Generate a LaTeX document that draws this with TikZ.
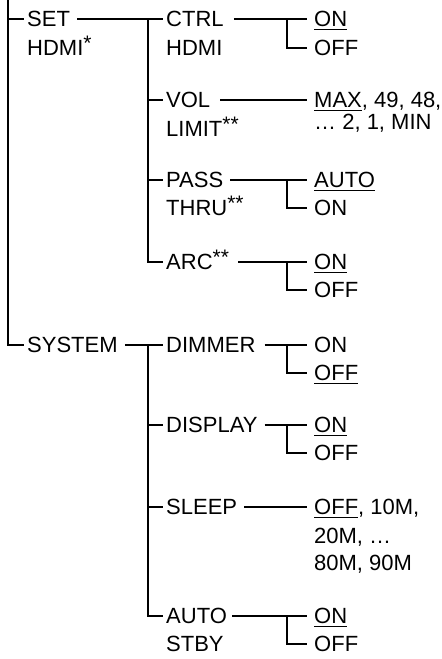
\documentclass[tikz,border=0pt]{standalone}
\usepackage{fontspec}
\setmainfont{Liberation Sans}
\newcommand\myul[1]{\setbox0\hbox{#1}\rlap{\rule[-3.2pt]{\wd0}{1.6pt}}\box0}
\newcommand\stars[1]{\raisebox{5pt}{\fontsize{21}{21}\selectfont #1}}
\begin{document}
\begin{tikzpicture}[x=1pt,y=-1pt,
  lbl/.style={anchor=west,inner sep=0pt,text height=15.8pt,text depth=0pt,font=\fontsize{22}{26}\selectfont},
  ln/.style={line width=2pt},
  bar/.style={line width=2.4pt}]
\useasboundingbox (0,0) rectangle (442,659);
% level 1
\node[lbl] (set) at (27,19) {SET};
\node[lbl] (sethdmi) at (27,48) {HDMI\stars{*}};
\node[lbl] (system) at (27,345) {SYSTEM};
% level 2
\node[lbl] (ctrl) at (166,19) {CTRL};
\node[lbl] (ctrlhdmi) at (166,48) {HDMI};
\node[lbl] (vol) at (166,100) {VOL};
\node[lbl] (limit) at (166,129) {LIMIT\stars{**}};
\node[lbl] (pass) at (166,180) {PASS};
\node[lbl] (thru) at (166,208) {THRU\stars{**}};
\node[lbl] (arc) at (166,262) {ARC\stars{**}};
\node[lbl] (dimmer) at (166,345) {DIMMER};
\node[lbl] (display) at (166,425) {DISPLAY};
\node[lbl] (sleep) at (166,507) {SLEEP};
\node[lbl] (auto) at (166,616) {AUTO};
\node[lbl] (stby) at (166,644) {STBY};
% level 3
\node[lbl] (on1) at (314,19) {\myul{ON}};
\node[lbl] (off1) at (314,48) {OFF};
\node[lbl] (max) at (314,100) {\myul{MAX}, 49, 48,};
\node[lbl] (min) at (314,122) {… 2, 1, MIN};
\node[lbl] (autoopt) at (314,180) {\myul{AUTO}};
\node[lbl] (on2) at (314,208) {ON};
\node[lbl] (on3) at (314,262) {\myul{ON}};
\node[lbl] (off3) at (314,290) {OFF};
\node[lbl] (on4) at (314,345) {ON};
\node[lbl] (off4) at (314,373) {\myul{OFF}};
\node[lbl] (on5) at (314,425) {\myul{ON}};
\node[lbl] (off5) at (314,453) {OFF};
\node[lbl] (sl1) at (314,507) {\myul{OFF}, 10M,};
\node[lbl] (sl2) at (314,536) {20M, …};
\node[lbl] (sl3) at (314,563) {80M, 90M};
\node[lbl] (on6) at (314,616) {\myul{ON}};
\node[lbl] (off6) at (314,644) {OFF};
% bars
\coordinate (b1) at (8,0);
\coordinate (b2) at (148,0);
\coordinate (b3) at (287,0);
% level 1 connectors
\draw[bar] (b1) |- ([xshift=-3]system.west);
\draw[ln] (b1 |- set.west) -- ([xshift=-3]set.west);
% level 2 connectors
\draw[ln] ([xshift=7]set.east) -- ([xshift=-3]ctrl.west);
\draw[bar] (b2 |- ctrl.west) |- ([xshift=-3]arc.west);
\draw[ln] (b2 |- vol.west) -- ([xshift=-3]vol.west);
\draw[ln] (b2 |- pass.west) -- ([xshift=-3]pass.west);
\draw[ln] ([xshift=7]system.east) -- ([xshift=-3]dimmer.west);
\draw[bar] (b2 |- dimmer.west) |- ([xshift=-3]auto.west);
\draw[ln] (b2 |- display.west) -- ([xshift=-3]display.west);
\draw[ln] (b2 |- sleep.west) -- ([xshift=-3]sleep.west);
% level 3 connectors
\draw[ln] ([xshift=10]ctrl.east) -- ([xshift=-7]on1.west);
\draw[bar] (b3 |- on1.west) |- ([xshift=-7]off1.west);
\draw[ln] ([xshift=10]vol.east) -- ([xshift=-7]max.west);
\draw[ln] ([xshift=7]pass.east) -- ([xshift=-7]autoopt.west);
\draw[bar] (b3 |- autoopt.west) |- ([xshift=-7]on2.west);
\draw[ln] ([xshift=9]arc.east) -- ([xshift=-7]on3.west);
\draw[bar] (b3 |- on3.west) |- ([xshift=-7]off3.west);
\draw[ln] ([xshift=9]dimmer.east) -- ([xshift=-7]on4.west);
\draw[bar] (b3 |- on4.west) |- ([xshift=-7]off4.west);
\draw[ln] ([xshift=7]display.east) -- ([xshift=-7]on5.west);
\draw[bar] (b3 |- on5.west) |- ([xshift=-7]off5.west);
\draw[ln] ([xshift=7]sleep.east) -- ([xshift=-7]sl1.west);
\draw[ln] ([xshift=5]auto.east) -- ([xshift=-7]on6.west);
\draw[bar] (b3 |- on6.west) |- ([xshift=-7]off6.west);
\end{tikzpicture}
\end{document}
